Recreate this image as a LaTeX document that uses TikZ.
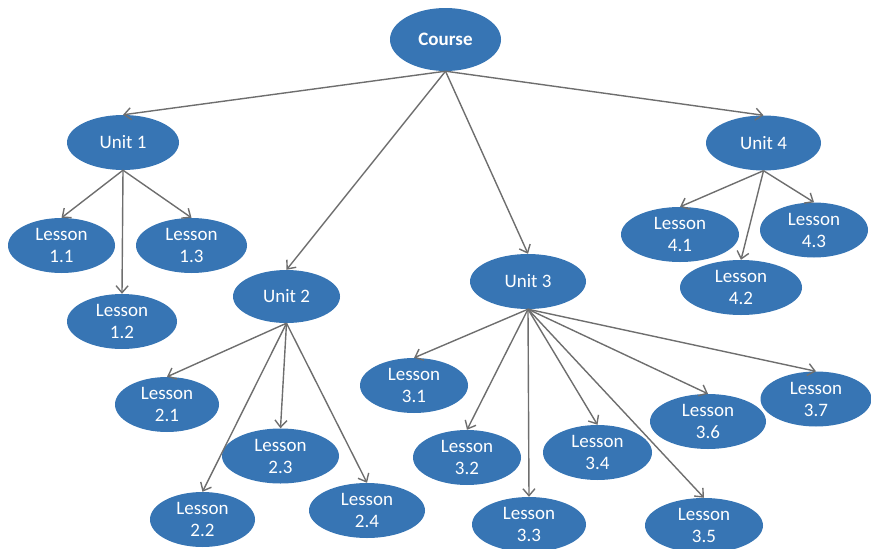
\documentclass[tikz,border=0pt]{standalone}
\usepackage{fontspec}
\setmainfont{Carlito}
\usepackage{xcolor}
\usetikzlibrary{arrows.meta,shapes.geometric}

\definecolor{topicblue}{HTML}{3775B4}
\definecolor{linkgray}{HTML}{6E6E6E}

\begin{document}
\begin{tikzpicture}[
  x=1pt, y=-1pt,
  topic/.style={ellipse, fill=topicblue, text=white, inner sep=0pt,
    minimum width=#1, minimum height=55pt, align=center,
    font=\fontsize{19}{22}\selectfont},
  topic/.default=110pt,
  arrow/.style={-{Straight Barb[length=7pt,width=12pt]}, line width=1.4pt,
    draw=linkgray}
]
  \useasboundingbox (0,0) rectangle (871,549);

  \node[topic=111pt, minimum height=63pt, font=\fontsize{19}{22}\selectfont\bfseries]
    (course) at (445.5,39.5) {Course};

  \node[topic=112pt] (unit1) at (123,142.5) {Unit 1};
  \node[topic=107pt, minimum height=53pt] (unit2) at (286.5,296.5) {Unit 2};
  \node[topic=116pt] (unit3) at (528,281.5) {Unit 3};
  \node[topic=115pt] (unit4) at (763.5,143) {Unit 4};

  \node[topic=107pt] (lesson11) at (61.5,245.5) {Lesson\\1.1};
  \node[topic=110pt] (lesson12) at (122,321.5) {Lesson\\1.2};
  \node[topic=111pt] (lesson13) at (191.5,245.5) {Lesson\\1.3};

  \node[topic=104pt] (lesson21) at (167,404.5) {Lesson\\2.1};
  \node[topic=105pt] (lesson22) at (202.5,519.5) {Lesson\\2.2};
  \node[topic=117pt] (lesson23) at (280.5,456) {Lesson\\2.3};
  \node[topic=116pt] (lesson24) at (367,510.5) {Lesson\\2.4};

  \node[topic=108pt] (lesson31) at (414,385.5) {Lesson\\3.1};
  \node[topic=108pt] (lesson32) at (467,457.5) {Lesson\\3.2};
  \node[topic=114pt] (lesson33) at (529,524.5) {Lesson\\3.3};
  \node[topic=109pt] (lesson34) at (597.5,452.5) {Lesson\\3.4};
  \node[topic=118pt] (lesson35) at (704,525.5) {Lesson\\3.5};
  \node[topic=116pt] (lesson36) at (708,421.5) {Lesson\\3.6};
  \node[topic=111pt] (lesson37) at (816,399) {Lesson\\3.7};

  \node[topic=118pt] (lesson41) at (680,234.5) {Lesson\\4.1};
  \node[topic=122pt] (lesson42) at (741,287.5) {Lesson\\4.2};
  \node[topic=108pt] (lesson43) at (814,230) {Lesson\\4.3};

  \draw[arrow] (course.south) -- (unit1.north);
  \draw[arrow] (course.south) -- (unit2.north);
  \draw[arrow] (course.south) -- (unit3.north);
  \draw[arrow] (course.south) -- (unit4.north);

  \draw[arrow] (unit1.south) -- (lesson11.north);
  \draw[arrow] (unit1.south) -- (lesson12.north);
  \draw[arrow] (unit1.south) -- (lesson13.north);

  \draw[arrow] (unit2.south) -- (lesson21.north);
  \draw[arrow] (unit2.south) -- (lesson22.north);
  \draw[arrow] (unit2.south) -- (lesson23.north);
  \draw[arrow] (unit2.south) -- (lesson24.north);

  \draw[arrow] (unit3.south) -- (lesson31.north);
  \draw[arrow] (unit3.south) -- (lesson32.north);
  \draw[arrow] (unit3.south) -- (lesson33.north);
  \draw[arrow] (unit3.south) -- (lesson34.north);
  \draw[arrow] (unit3.south) -- (lesson35.north);
  \draw[arrow] (unit3.south) -- (lesson36.north);
  \draw[arrow] (unit3.south) -- (lesson37.north);

  \draw[arrow] (unit4.south) -- (lesson41.north);
  \draw[arrow] (unit4.south) -- (lesson42.north);
  \draw[arrow] (unit4.south) -- (lesson43.north);
\end{tikzpicture}
\end{document}
